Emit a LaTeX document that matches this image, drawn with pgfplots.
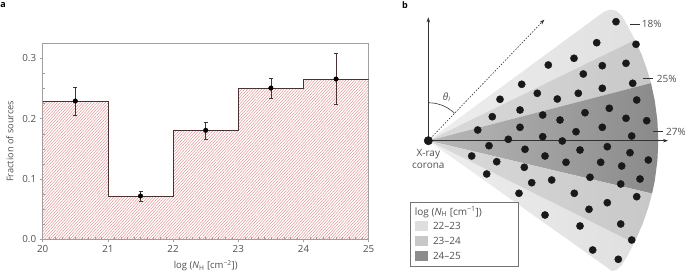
\documentclass[border=0pt]{standalone}
\usepackage{fontspec}
\setmainfont{Open Sans}
\usepackage{pgfplots}
\pgfplotsset{compat=1.18}
\usetikzlibrary{patterns.meta, arrows.meta}
\definecolor{hatch}{RGB}{222,120,120}
\definecolor{stepc}{RGB}{75,50,50}
\definecolor{txt}{RGB}{80,80,80}
\definecolor{frame}{RGB}{160,160,160}
\definecolor{fanLa}{RGB}{238,238,238}
\definecolor{fanLb}{RGB}{224,224,224}
\definecolor{fanMa}{RGB}{218,218,218}
\definecolor{fanMb}{RGB}{200,200,200}
\definecolor{fanDa}{RGB}{184,184,184}
\definecolor{fanDb}{RGB}{138,138,138}
\definecolor{legL}{RGB}{222,222,222}
\definecolor{legM}{RGB}{200,200,200}
\definecolor{legD}{RGB}{140,140,140}
\definecolor{dotc}{RGB}{25,25,25}
\definecolor{linec}{RGB}{50,50,50}
\begin{document}
\begin{tikzpicture}[font=\fontsize{10}{11.5}\selectfont]
\useasboundingbox (0,0) rectangle (685pt,273pt);
\node[anchor=center, font=\bfseries\fontsize{9}{10}\selectfont, inner sep=0] at (3pt,268pt) {a};
\node[anchor=center, font=\bfseries\fontsize{9}{10}\selectfont, inner sep=0] at (405pt,268pt) {b};
% ---------------- panel a
\begin{axis}[at={(42.7pt,33.7pt)}, anchor=south west, scale only axis,
  width=326pt, height=196pt,
  xmin=20, xmax=25, ymin=0, ymax=0.325,
  axis line style={frame, line width=0.5pt},
  xtick={20,21,22,23,24,25}, ytick={0,0.1,0.2,0.3},
  minor x tick num=9, minor y tick num=3,
  xtick pos=bottom, ytick pos=left,
  tick align=outside,
  major tick length=3pt, minor tick length=-2pt,
  tick style={frame, line width=0.5pt},
  tick label style={txt, font=\fontsize{9.8}{11}\selectfont},
  /pgf/number format/assume math mode=true,
  yticklabel style={/pgf/number format/.cd, fixed, fixed zerofill, precision=1},
  xlabel={log (\textit{N}\textsubscript{H} [cm\textsuperscript{−2}])},
  ylabel={Fraction of sources},
  every axis y label/.style={at={(axis description cs:-0.1003,0.5)}, rotate=90, anchor=center, text=txt, font=\fontsize{9.2}{10}\selectfont},
  every axis x label/.style={at={(axis description cs:0.5,-0.1347)}, anchor=center, text=txt, font=\fontsize{9.5}{10}\selectfont},
]
\addplot[const plot, draw=none, pattern={Lines[angle=48,distance=2.1pt,line width=0.35pt]}, pattern color=hatch]
  coordinates {(20,0.2287) (21,0.0713) (22,0.1807) (23,0.2503) (24,0.2657) (25,0.2657)} \closedcycle;
\addplot[const plot, stepc, line width=0.8pt]
  coordinates {(20,0.2287) (21,0.0713) (22,0.1807) (23,0.2503) (24,0.2657) (25,0.2657)};
\addplot[only marks, mark=*, mark size=2.3pt, black,
  error bars/.cd, y dir=both, y explicit,
  error bar style={stepc, line width=0.6pt},
  error mark options={rotate=90, mark size=2pt, stepc, line width=0.6pt}]
  coordinates {
  (20.5,0.2293) += (0,0.0221) -= (0,0.0238)
  (21.5,0.0718) += (0,0.0072) -= (0,0.0094)
  (22.5,0.1807) += (0,0.0133) -= (0,0.0150)
  (23.5,0.2508) += (0,0.0161) -= (0,0.0165)
  (24.5,0.2657) += (0,0.0426) -= (0,0.0419)
  };
\end{axis}
% ---------------- panel b
\begin{axis}[at={(395pt,0pt)}, anchor=south west, scale only axis,
  width=290pt, height=273pt,
  xmin=-33.3, xmax=256.7, ymin=-132.3, ymax=140.7,
  hide axis, clip=false,
]
% fan bands
\addplot[draw=none, left color=fanLa, right color=fanLb]
  coordinates {(0,0) (176,129.2) (182,131.2) (188,129.8) (194,124.5) (199.2,115.0) (206.7,100.8)} -- cycle;
\addplot[draw=none, left color=fanMa, right color=fanMb]
  coordinates {(0,0) (206.7,100.8) (213.3,86.2) (218.7,71.1) (222.7,57.6)} -- cycle;
\addplot[draw=none, left color=fanDa, right color=fanDb]
  coordinates {(0,0) (222.7,57.6) (226.5,39.9) (229.1,20.0) (230,0) (229.1,-20.0) (226.5,-39.9) (223.8,-52.9)} -- cycle;
\addplot[draw=none, left color=fanMa, right color=fanMb]
  coordinates {(0,0) (223.8,-52.9) (219.9,-67.2) (214.7,-82.4) (205.8,-102.6)} -- cycle;
\addplot[draw=none, left color=fanLa, right color=fanLb]
  coordinates {(0,0) (205.8,-102.6) (199.2,-115.0) (193.5,-124.3) (188.5,-129.0) (183.4,-130.5) (177,-125.5)} -- cycle;
% arrows
\addplot[linec, line width=0.6pt, -{Stealth[length=5pt,width=3.5pt]}] coordinates {(0,0) (0,123.4)};
\addplot[linec, line width=0.6pt, -{Stealth[length=5pt,width=3.5pt]}] coordinates {(0,0) (239.7,0)};
\addplot[linec, line width=0.6pt, dash pattern=on 1.5pt off 1.5pt, -{Stealth[length=5pt,width=3.5pt]}] coordinates {(0,0) (116,121)};
\addplot[linec, line width=0.6pt, smooth] coordinates {(0,38) (6.6,37.4) (13.0,35.7) (19.0,32.9) (24.4,29.1) (26.2,27.6)};
% percentage ticks
\addplot[linec, line width=0.6pt] coordinates {(201.7,116.7) (211.7,116.7)};
\addplot[linec, line width=0.6pt] coordinates {(215,62) (225,62)};
\addplot[linec, line width=0.6pt] coordinates {(225,9) (235,9)};
% dots
\addplot[only marks, mark=*, mark size=3.6pt, dotc] coordinates {
(187.7,119.0) (168.4,98.0) (207.7,96.4) (145.7,82.4) (120.0,75.7) (174.0,75.0)
(197.7,77.4) (155.0,66.7) (204.4,57.4) (174.0,52.4) (150.0,47.4) (129.0,41.7)
(208.4,40.7) (181.0,32.4) (156.7,28.0) (114.4,25.7) (131.7,20.7) (197.7,22.4)
(218.4,20.0) (174.0,13.4) (147.7,9.0) (203.4,4.7) (114.4,4.0) (134.0,-0.3)
(151.7,-9.3) (179.0,-6.0) (201.7,-12.0) (220.0,-19.3) (116.7,-15.3) (137.7,-21.6)
(172.4,-21.6) (193.4,-25.3) (211.7,-38.3) (192.4,-43.3) (161.7,-36.6) (123.4,-39.3)
(208.4,-56.0) (146.0,-52.6) (179.0,-62.0) (160.7,-68.6) (116.7,-74.3) (151.7,-85.3)
(192.4,-83.3) (203.4,-99.3) (164.4,-109.3) (190.0,-118.6) (93.4,56.4) (109.0,47.4)
(71.7,41.4) (91.7,30.7) (64.0,24.0) (91.7,13.4) (49.4,10.7) (80.0,1.4)
(60.7,-5.0) (96.7,-8.6) (43.4,-15.3) (68.4,-21.0) (96.0,-26.6) (58.4,-33.3)
(103.4,-42.0) (90.7,-52.6)
};
\addplot[only marks, mark=*, mark size=4.2pt, dotc] coordinates {(0,0)};
% legend (box and swatches)
\addplot[fill=white, draw=black!55, line width=0.5pt] coordinates {(-18.3,-61.6) (90,-61.6) (90,-126) (-18.3,-126)} -- cycle;
\addplot[fill=legL, draw=none] coordinates {(-13.3,-80.8) (0,-80.8) (0,-90.2) (-13.3,-90.2)} -- cycle;
\addplot[fill=legM, draw=none] coordinates {(-13.3,-95.8) (0,-95.8) (0,-105.2) (-13.3,-105.2)} -- cycle;
\addplot[fill=legD, draw=none] coordinates {(-13.3,-110.8) (0,-110.8) (0,-120.2) (-13.3,-120.2)} -- cycle;
% labels
\node[text=txt, anchor=west, inner sep=0] at (axis cs:-13.6,-71.5) {log (\textit{N}\textsubscript{H} [cm\textsuperscript{−1}])};
\node[text=txt, anchor=west, inner sep=0] at (axis cs:4.5,-85.5) {22–23};
\node[text=txt, anchor=west, inner sep=0] at (axis cs:4.5,-100.5) {23–24};
\node[text=txt, anchor=west, inner sep=0] at (axis cs:4.5,-115.5) {24–25};
\node[text=txt, anchor=center] at (axis cs:18.4,43.4) {\textit{θ}\textsubscript{\textit{i}}};
\node[text=txt, anchor=center] at (axis cs:0,-13.6) {X-ray};
\node[text=txt, anchor=center] at (axis cs:0,-25.2) {corona};
\node[text=txt, anchor=west, inner sep=0] at (axis cs:213.4,116.7) {18\%};
\node[text=txt, anchor=west, inner sep=0] at (axis cs:228.4,62) {25\%};
\node[text=txt, anchor=west, inner sep=0] at (axis cs:237.7,9) {27\%};
\end{axis}
\end{tikzpicture}
\end{document}
